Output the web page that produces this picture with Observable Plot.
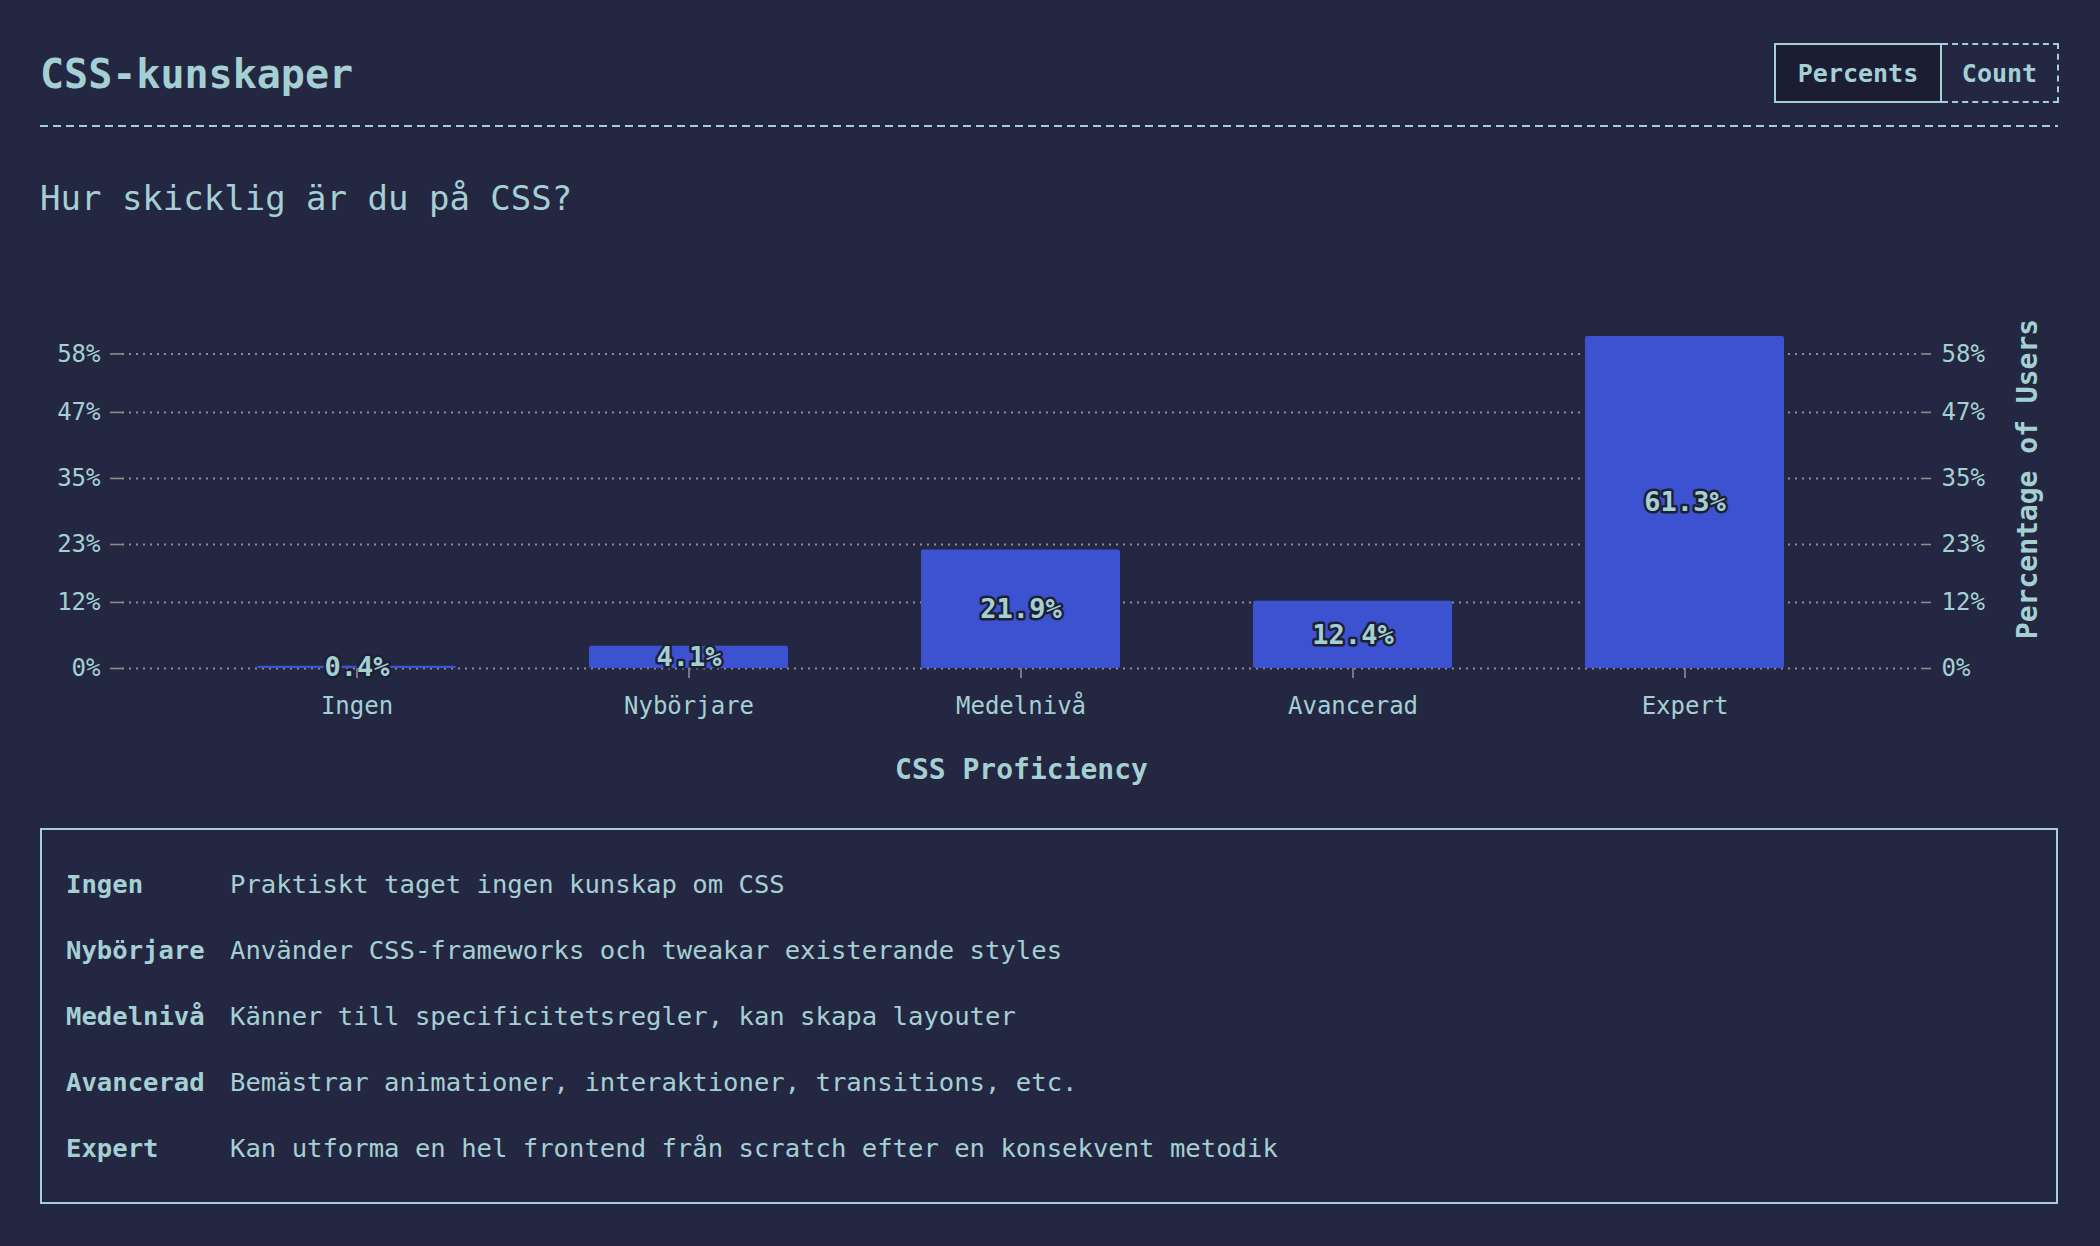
<!DOCTYPE html>
<html><head><meta charset="utf-8">
<script src="https://cdn.jsdelivr.net/npm/d3@7"></script>
<script src="https://cdn.jsdelivr.net/npm/@observablehq/plot@0.6"></script>
<style>
html,body{margin:0;padding:0;background:#232741;width:2100px;height:1246px;overflow:hidden;}
body{position:relative;font-family:"DejaVu Sans Mono",monospace;color:#a5d0d3;}
#title{position:absolute;left:40px;top:52px;font-size:40px;font-weight:bold;line-height:44px;white-space:nowrap;}
#rule{position:absolute;left:40px;top:125px;width:2018px;height:2px;background:repeating-linear-gradient(90deg,#a5d0d3 0 8px,transparent 8px 13px);}
#btns{position:absolute;left:1774px;top:43px;height:60px;display:flex;}
.btn{box-sizing:border-box;height:60px;display:flex;align-items:center;justify-content:center;font-size:25px;font-weight:bold;}
#b1{width:168px;border:2px solid #a5d0d3;background:#1b1e33;}
#b2{width:117px;border:2px dashed #a5d0d3;border-left:none;}
#subtitle{position:absolute;left:40px;top:178px;font-size:34px;line-height:40px;white-space:nowrap;}
#chart{position:absolute;left:0;top:230px;}
#desc{position:absolute;left:40px;top:828px;width:2018px;height:376px;box-sizing:border-box;border:2px solid #a5d0d3;}
.row{position:absolute;left:24px;font-size:25.6px;line-height:30px;display:flex;white-space:nowrap;}
.row b{width:164px;display:inline-block;}
#chart g[aria-label="y-axis label"], #chart g[aria-label="x-axis label"]{font-weight:bold;font-size:28px;}
#chart g[aria-label="y-axis tick"] path, #chart g[aria-label="x-axis tick"] path{stroke:#8c8c8c;stroke-width:1.6px;}
</style>
</head>
<body>
<div id="title">CSS-kunskaper</div>
<div id="btns"><div class="btn" id="b1">Percents</div><div class="btn" id="b2">Count</div></div>
<div id="rule"></div>
<div id="subtitle">Hur skicklig är du på CSS?</div>
<div id="chart"></div>
<div id="desc"></div>
<script>
const categories = ["Ingen", "Nybörjare", "Medelnivå", "Avancerad", "Expert"];
const percents = [0.4, 4.1, 21.9, 12.4, 61.3];
const yTicks = [0, 12.2, 22.9, 35.1, 47.3, 58.1];
const yDomain = [0, 70];
const descriptions = [
  "Praktiskt taget ingen kunskap om CSS",
  "Använder CSS-frameworks och tweakar existerande styles",
  "Känner till specificitetsregler, kan skapa layouter",
  "Bemästrar animationer, interaktioner, transitions, etc.",
  "Kan utforma en hel frontend från scratch efter en konsekvent metodik"
];

const data = categories.map((c, i) => ({cat: c, pct: percents[i]}));
const fmt = d => Math.round(d) + "%";
const teal = "#a5d0d3";

const chart = Plot.plot({
  width: 2100,
  height: 570,
  marginTop: 59,
  marginBottom: 132,
  marginLeft: 122,
  marginRight: 180,
  style: {background: "transparent", color: teal, fontFamily: "DejaVu Sans Mono, monospace", fontSize: "24px"},
  x: {domain: categories, padding: 0.4, label: null},
  y: {domain: yDomain, label: null},
  marks: [
    Plot.gridY(yTicks, {stroke: "#9a9a9a", strokeOpacity: 0.9, strokeDasharray: "2,5", strokeWidth: 2}),
    Plot.barY(data, {x: "cat", y: "pct", fill: "#3c52d1", rx: 2}),
    Plot.text(data, {x: "cat", y: d => d.pct / 2, text: d => d.pct.toFixed(1) + "%", fill: teal, stroke: "#1d2035", strokeWidth: 5, fontWeight: "bold", fontSize: 27}),
    Plot.axisX({tickSize: 10, tickPadding: 18, label: "CSS Proficiency", labelAnchor: "center", labelOffset: 110, labelArrow: false}),
    Plot.axisY({anchor: "left", ticks: yTicks, tickFormat: fmt, tickSize: 12, tickPadding: 10, label: null}),
    Plot.axisY({anchor: "right", ticks: yTicks, tickFormat: fmt, tickSize: 10, tickPadding: 11, label: "Percentage of Users", labelAnchor: "center", labelOffset: 116, labelArrow: false})
  ]
});
document.getElementById("chart").appendChild(chart);

const desc = document.getElementById("desc");
categories.forEach((c, i) => {
  const row = document.createElement("div");
  row.className = "row";
  row.style.top = (39 + i * 66) + "px";
  const b = document.createElement("b");
  b.textContent = c;
  const s = document.createElement("span");
  s.textContent = descriptions[i];
  row.appendChild(b);
  row.appendChild(s);
  desc.appendChild(row);
});
</script>
</body></html>
